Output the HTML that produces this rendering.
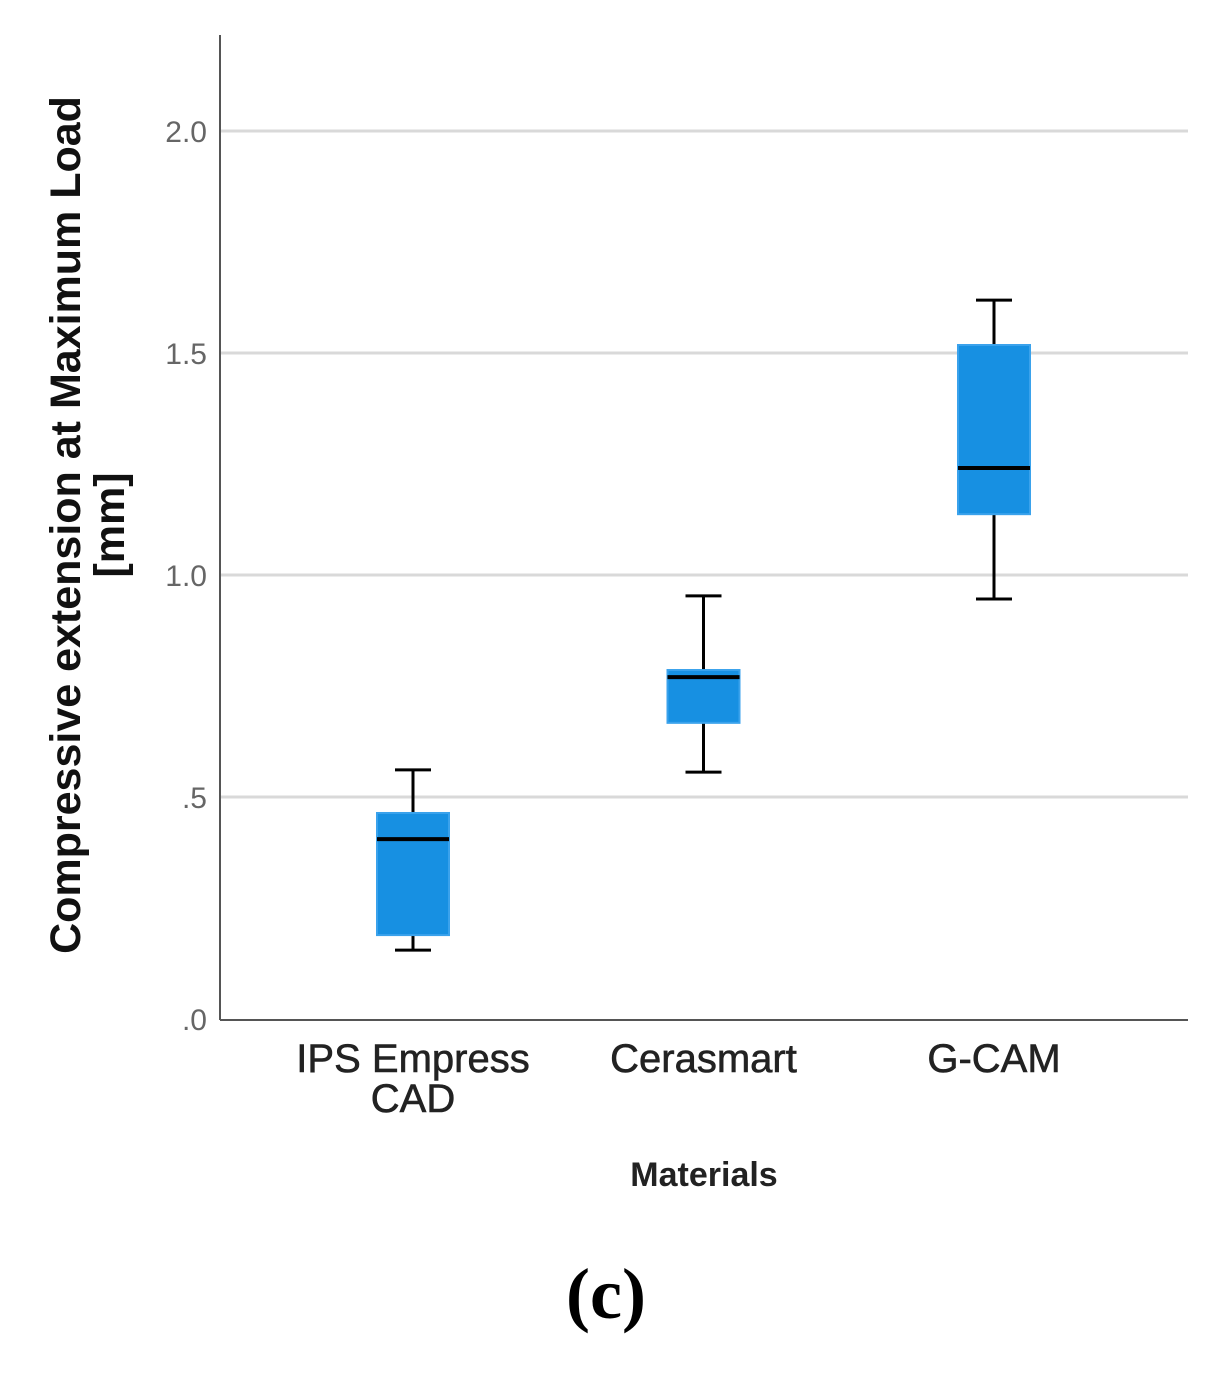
<!DOCTYPE html>
<html><head><meta charset="utf-8"><style>
body{margin:0;background:#fff;}
svg text{font-family:"Liberation Sans",Arial,sans-serif;}
</style></head><body>
<svg width="1222" height="1368" xmlns="http://www.w3.org/2000/svg">
<g id="grid"></g>
<g id="yticks"></g>
<line x1="220" y1="35" x2="220" y2="1020" stroke="#555" stroke-width="2"/>
<line x1="220" y1="1020" x2="1188" y2="1020" stroke="#555" stroke-width="2"/>
<g id="boxes"></g>
<g id="xlabels"></g>
<text x="704" y="1186" text-anchor="middle" font-size="34" font-weight="bold" fill="#222">Materials</text>
<g transform="translate(80,525) rotate(-90)">
<text x="0" y="0" text-anchor="middle" font-size="43" font-weight="bold" fill="#111">Compressive extension at Maximum Load</text>
<text x="0" y="44" text-anchor="middle" font-size="43" font-weight="bold" fill="#111">[mm]</text>
</g>
<text x="606" y="1318" text-anchor="middle" font-size="72" font-weight="bold" style="font-family:'Liberation Serif',serif" fill="#000">(c)</text>
</svg>
<script>
const categories=[["IPS Empress","CAD"],["Cerasmart"],["G-CAM"]];
const mins=[0.155,0.556,0.946];
const q1s=[0.189,0.667,1.137];
const medians=[0.405,0.770,1.241];
const q3s=[0.464,0.786,1.518];
const maxs=[0.561,0.953,1.619];
const yTicks=[0,0.5,1.0,1.5,2.0];
const yTickLabels=[".0",".5","1.0","1.5","2.0"];
const NS="http://www.w3.org/2000/svg";
function y(v){return 1019-444*v;}
function x(i){return 413+i*290.5;}
function mk(tag,attrs,parent){const e=document.createElementNS(NS,tag);for(const k in attrs)e.setAttribute(k,attrs[k]);parent.appendChild(e);return e;}
const grid=document.getElementById('grid'),yt=document.getElementById('yticks'),bx=document.getElementById('boxes'),xl=document.getElementById('xlabels');
yTicks.forEach((v,i)=>{
  if(v>0){const l=mk('line',{x1:220,x2:1188,y1:y(v),y2:y(v),stroke:'#d9d9d9','stroke-width':3},grid);
  
  }
  const t=mk('text',{x:207,y:y(v)+11,'text-anchor':'end','font-size':30,fill:'#666'},yt);
  t.textContent=yTickLabels[i];
  
  
});
categories.forEach((c,i)=>{
  const cx=x(i),g=mk('g',{},bx);
  
  
  mk('line',{x1:cx,x2:cx,y1:y(maxs[i]),y2:y(q3s[i]),stroke:'#000','stroke-width':3},g);
  mk('line',{x1:cx,x2:cx,y1:y(q1s[i]),y2:y(mins[i]),stroke:'#000','stroke-width':3},g);
  mk('line',{x1:cx-18,x2:cx+18,y1:y(maxs[i]),y2:y(maxs[i]),stroke:'#000','stroke-width':3},g);
  mk('line',{x1:cx-18,x2:cx+18,y1:y(mins[i]),y2:y(mins[i]),stroke:'#000','stroke-width':3},g);
  mk('rect',{x:cx-36,y:y(q3s[i]),width:72,height:y(q1s[i])-y(q3s[i]),fill:'#1790e2',stroke:'#3aa2ec','stroke-width':2},g);
  mk('line',{x1:cx-36,x2:cx+36,y1:y(medians[i]),y2:y(medians[i]),stroke:'#000','stroke-width':4},g);
  const t=mk('text',{x:cx,y:1072,'text-anchor':'middle','font-size':40,fill:'#222',stroke:'#222','stroke-width':0.6},xl);
  
  
  c.forEach((line,j)=>{const s=mk('tspan',{x:cx,dy:j?40:0},t);s.textContent=line;});
});
</script>
</body></html>
